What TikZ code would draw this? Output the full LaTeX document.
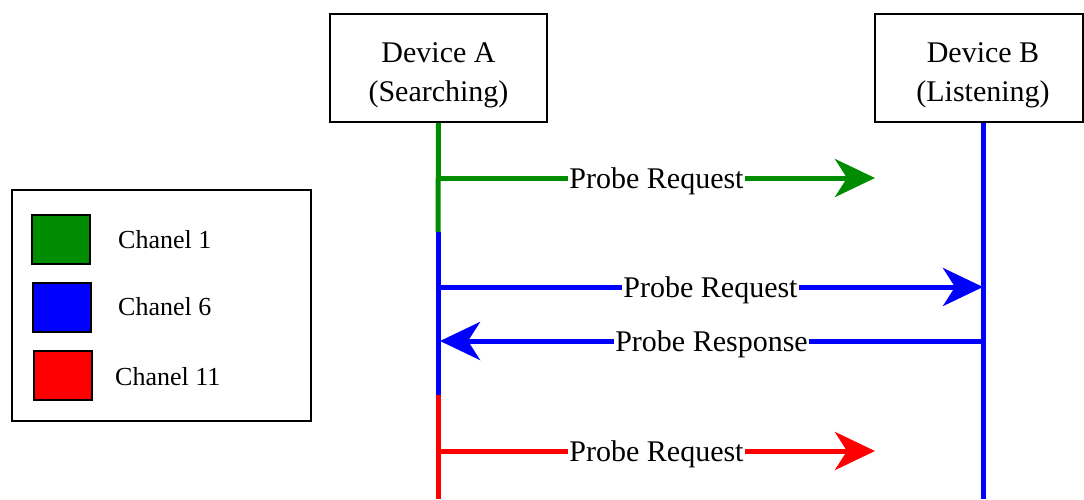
\documentclass[tikz,border=0pt]{standalone}
\usepackage{fontspec}
\setmainfont{Liberation Serif}
\usetikzlibrary{arrows.meta}
\definecolor{chone}{RGB}{0,140,0}
\definecolor{chsix}{RGB}{0,0,255}
\definecolor{cheleven}{RGB}{255,0,0}
\begin{document}
\begin{tikzpicture}[x=1pt,y=-1pt,
  devicebox/.style={draw, line width=2pt, minimum width=217pt, minimum height=108pt, inner sep=0pt},
  devicetext/.style={align=center, font=\fontsize{30}{39}\selectfont, inner sep=0pt},
  lifeline/.style={line width=5pt},
  msg/.style={line width=5pt, -{Stealth[length=40pt, width=38pt, inset=12pt]}},
  msglabel/.style={fill=white, inner sep=1.5pt, yshift=-3.5pt, font=\fontsize{30}{36}\selectfont},
  legendbox/.style={draw, line width=2pt, minimum width=299pt, minimum height=231pt, inner sep=0pt},
  swatch/.style={draw, line width=2pt, minimum width=58pt, minimum height=49pt, inner sep=0pt},
  legendtext/.style={anchor=west, inner sep=0pt, font=\fontsize{26}{30}\selectfont}]
\useasboundingbox (0,0) rectangle (1084,499);

% participants
\node[devicebox] (devA) at (438.5,68) {};
\node[devicetext] (devAtext) at (438.5,75) {Device A\\(Searching)};
\node[devicebox, minimum width=208pt] (devB) at (979,68) {};
\node[devicetext] (devBtext) at (983,75) {Device B\\(Listening)};

% points on the lifelines
\coordinate (aSix)    at (438,232);
\coordinate (aEleven) at (438,395);
\coordinate (aEnd)    at (438,499);
\coordinate (bEnd)    at (983,499);

% lifeline of device A, coloured by channel
\draw[lifeline, chone]    (devA.south) -- (aSix);
\draw[lifeline, chsix]    (aSix) -- (aEleven);
\draw[lifeline, cheleven] (aEleven) -- (aEnd);
% lifeline of device B
\draw[lifeline, chsix] (devB.south -| devBtext) -- (bEnd);

% message end points
\coordinate (m1s) at (438,178);
\coordinate (m1e) at (875,178);
\coordinate (m2s) at (438,287);
\coordinate (m2e) at (983,287);
\coordinate (m3s) at (983,341);
\coordinate (m3e) at (440,341);
\coordinate (m4s) at (438,451);
\coordinate (m4e) at (875,451);

% messages
\draw[msg, chone] (m1s) -- node[msglabel, text=black] (l1) {Probe Request} (m1e);
\draw[msg, chsix] (m2s) -- node[msglabel, text=black] (l2) {Probe Request} (m2e);
\draw[msg, chsix] (m3s) -- node[msglabel, text=black] (l3) {Probe Response} (m3e);
\draw[msg, cheleven] (m4s) -- node[msglabel, text=black] (l4) {Probe Request} (m4e);

% legend
\node[legendbox] (legend) at (161.5,305.5) {};
\node[swatch, fill=chone]    (sw1) at (60.5,239) {};
\node[swatch, fill=chsix]    (sw2) at (61.5,307.5) {};
\node[swatch, fill=cheleven] (sw3) at (62.5,375.5) {};
\node[legendtext] (t1) at (118,240) {Chanel 1};
\node[legendtext] (t2) at (118,307) {Chanel 6};
\node[legendtext] (t3) at (115,377) {Chanel 11};
\end{tikzpicture}
\end{document}
